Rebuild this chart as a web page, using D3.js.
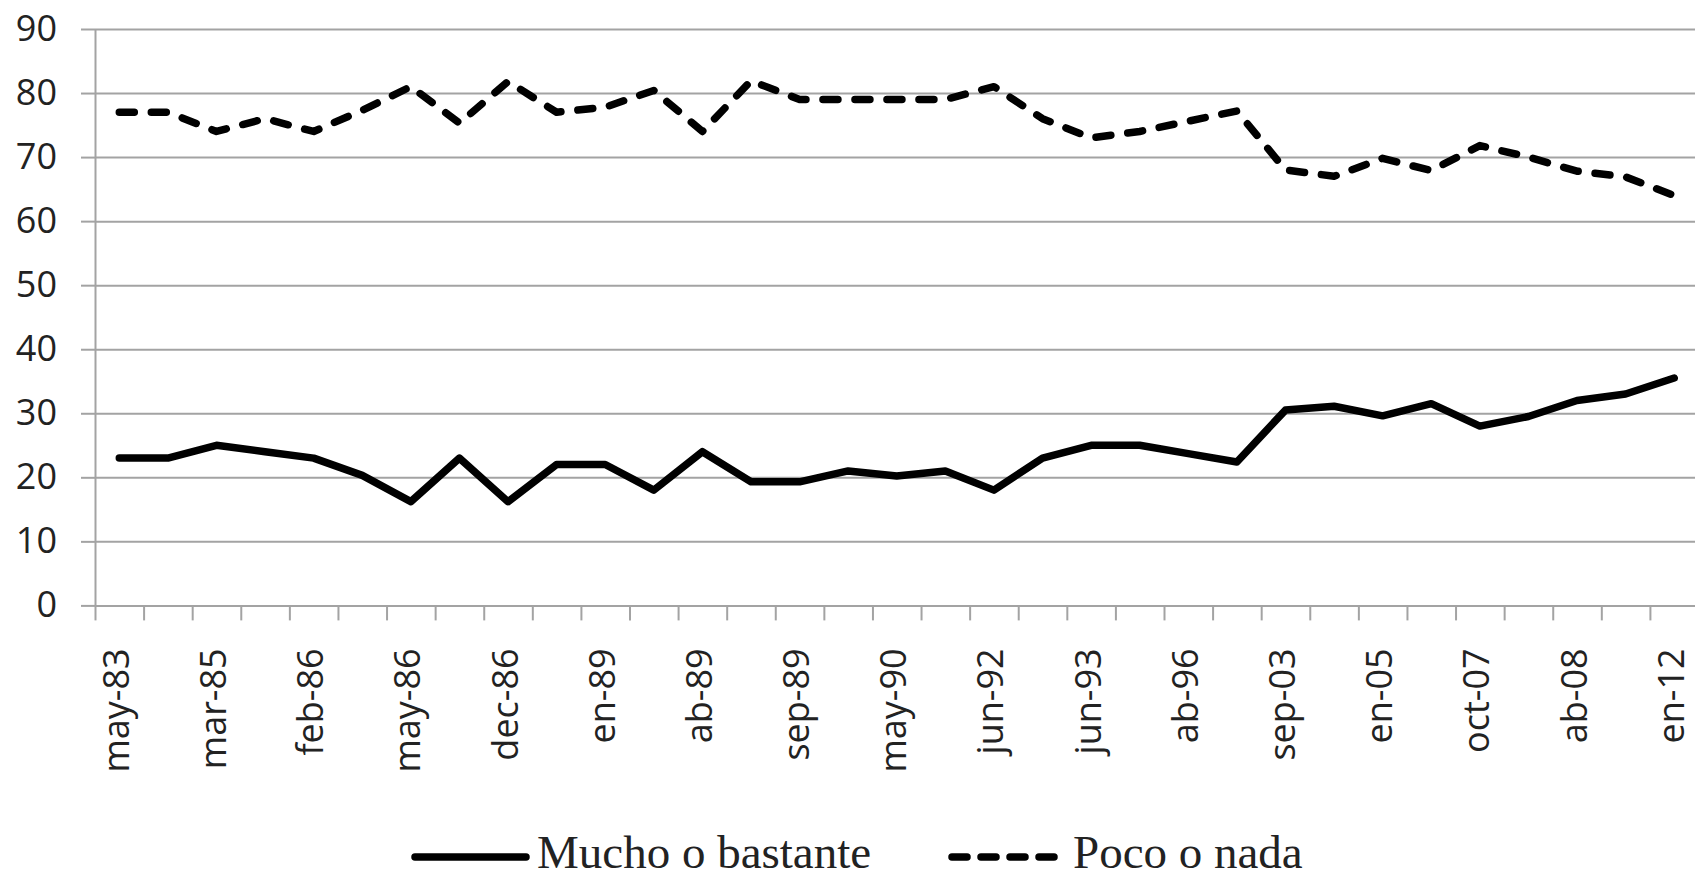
<!DOCTYPE html>
<html>
<head>
<meta charset="utf-8">
<script src="https://cdn.jsdelivr.net/npm/d3@7"></script>
<style>
    body { margin: 0; background: #fff; overflow: hidden; }
    svg { display: block; }
</style>
</head>
<body>
<svg id="chart"></svg>
<script>
// labels shown on the axis (every other survey date)
const tickLabels = ["may-83", "mar-85", "feb-86", "may-86", "dec-86", "en-89", "ab-89", "sep-89",
    "may-90", "jun-92", "jun-93", "ab-96", "sep-03", "en-05", "oct-07", "ab-08", "en-12"];

const mucho = [23, 23, 25, 24, 23, 20.3, 16.2, 23, 16.2, 22, 22, 18, 24, 19.3, 19.3, 21, 20.2,
    21, 18, 23, 25, 25, 23.7, 22.4, 30.5, 31.1, 29.6, 31.5, 28, 29.5, 32, 33, 35.5];

const poco = [77, 77, 74, 76, 74, 77.3, 81, 75.3, 81.8, 77, 77.8, 80.4, 74, 81.9, 79, 79, 79,
    79, 81, 76, 73, 74, 75.6, 77.2, 68, 67, 69.8, 67.9, 71.8, 70, 67.8, 66.9, 64];

const seriesNames = ["Mucho o bastante", "Poco o nada"];
const yTicks = [0, 10, 20, 30, 40, 50, 60, 70, 80, 90];

const W = 1695, H = 877;
const m = { left: 95, right: 1698.5, top: 29, bottom: 605.4 };
const grey = "#a3a3a3";
const dash = "15,17";

const n = mucho.length;
const svg = d3.select("#chart").attr("width", W).attr("height", H);

const x = d3.scaleLinear().domain([0, n]).range([m.left, m.right]);
const y = d3.scaleLinear().domain([0, 90]).range([m.bottom, m.top]);

// gridlines
svg.append("g")
    .attr("transform", "translate(" + m.left + ",0)")
    .call(d3.axisLeft(y).tickValues(yTicks).tickSize(-(m.right - m.left)).tickFormat(""))
    .call(g => g.select(".domain").remove())
    .call(g => g.selectAll("line").attr("stroke", grey).attr("stroke-width", 2));

// y axis with labels
svg.append("g")
    .attr("transform", "translate(" + m.left + ",0)")
    .call(d3.axisLeft(y).tickValues(yTicks).tickSize(14).tickSizeOuter(0).tickPadding(24))
    .call(g => g.select(".domain").attr("stroke", grey).attr("stroke-width", 2))
    .call(g => g.selectAll("line").attr("stroke", grey).attr("stroke-width", 2))
    .call(g => g.selectAll("text")
        .style("font-family", "'Open Sans', sans-serif")
        .style("font-size", "36px")
        .attr("fill", "#222"));

// x axis: tick marks at category boundaries
svg.append("g")
    .attr("transform", "translate(0," + m.bottom + ")")
    .call(d3.axisBottom(x).tickValues(d3.range(n + 1)).tickSize(15).tickSizeOuter(0).tickFormat(""))
    .call(g => g.select(".domain").attr("stroke", grey).attr("stroke-width", 2))
    .call(g => g.selectAll("line").attr("stroke", grey).attr("stroke-width", 2));

// x labels, rotated, at every other category centre
svg.append("g")
    .attr("transform", "translate(0," + m.bottom + ")")
    .call(d3.axisBottom(x)
        .tickValues(tickLabels.map((d, i) => i * 2 + 0.5))
        .tickSize(0)
        .tickFormat((d, i) => tickLabels[i]))
    .call(g => g.select(".domain").remove())
    .call(g => g.selectAll("text")
        .style("font-family", "'Open Sans', sans-serif")
        .style("font-size", "36px")
        .attr("fill", "#222")
        .attr("text-anchor", "end")
        .attr("transform", "rotate(-90)")
        .attr("x", -43)
        .attr("y", 0)
        .attr("dy", "0.25em"));

// lines
const line = d3.line()
    .x((d, i) => x(i + 0.5))
    .y(d => y(d));

svg.append("path")
    .datum(poco)
    .attr("d", line)
    .attr("fill", "none")
    .attr("stroke", "#000")
    .attr("stroke-width", 7.5)
    .attr("stroke-linecap", "round")
    .attr("stroke-linejoin", "round")
    .attr("stroke-dasharray", dash);

svg.append("path")
    .datum(mucho)
    .attr("d", line)
    .attr("fill", "none")
    .attr("stroke", "#000")
    .attr("stroke-width", 7.5)
    .attr("stroke-linecap", "round")
    .attr("stroke-linejoin", "round");

// legend
const legend = svg.selectAll(".legendItem")
    .data(seriesNames)
    .enter().append("g")
    .attr("class", "legendItem")
    .attr("transform", (d, i) => "translate(" + (415 + i * 537) + ",857)");

legend.append("line")
    .attr("x1", 0).attr("x2", 111)
    .attr("stroke", "#000")
    .attr("stroke-width", 7.5)
    .attr("stroke-linecap", "round")
    .attr("stroke-dasharray", (d, i) => i ? "15,14" : null);

legend.append("text")
    .attr("x", (d, i) => i ? 121 : 122)
    .attr("y", 11)
    .style("font-family", "'Liberation Serif', serif")
    .style("font-size", "47px")
    .attr("fill", "#222")
    .text(d => d);
</script>
</body>
</html>
